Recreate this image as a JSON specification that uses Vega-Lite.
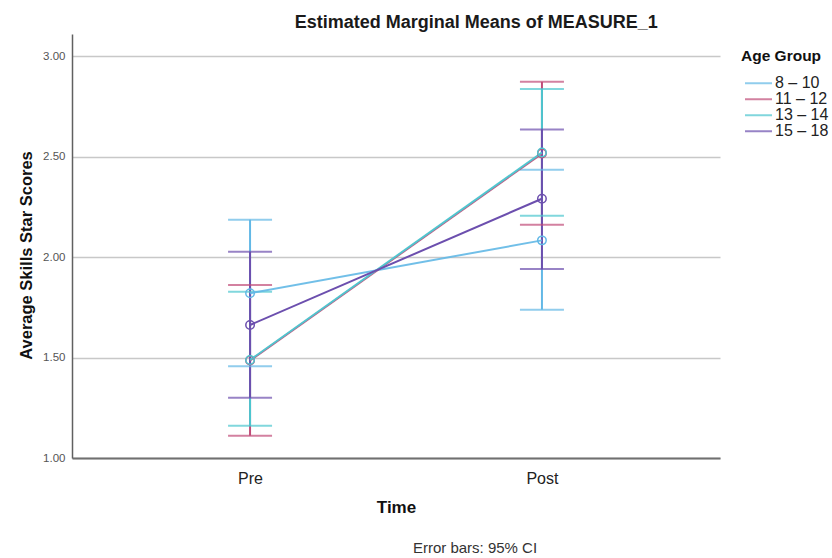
{
  "$schema": "https://vega.github.io/schema/vega-lite/v6.json",
  "background": "white",
  "padding": {"left": 18, "top": 14, "right": 0, "bottom": 0},
  "title": {
    "text": "Estimated Marginal Means of MEASURE_1",
    "font": "Liberation Sans",
    "fontSize": 18,
    "fontWeight": "bold",
    "color": "#1a1a1a",
    "anchor": "middle",
    "dx": 45,
    "offset": 2
  },
  "datasets": {
    "emm": [
      {"group": "8 – 10", "time": "Pre", "mean": 1.82, "lo": 1.456, "hi": 2.186},
      {"group": "8 – 10", "time": "Post", "mean": 2.083, "lo": 1.738, "hi": 2.434},
      {"group": "11 – 12", "time": "Pre", "mean": 1.485, "lo": 1.111, "hi": 1.861},
      {"group": "11 – 12", "time": "Post", "mean": 2.515, "lo": 2.161, "hi": 2.872},
      {"group": "13 – 14", "time": "Pre", "mean": 1.488, "lo": 1.161, "hi": 1.827},
      {"group": "13 – 14", "time": "Post", "mean": 2.52, "lo": 2.206, "hi": 2.836},
      {"group": "15 – 18", "time": "Pre", "mean": 1.662, "lo": 1.3, "hi": 2.026},
      {"group": "15 – 18", "time": "Post", "mean": 2.29, "lo": 1.94, "hi": 2.635}
    ]
  },
  "vconcat": [
    {
      "width": 648,
      "height": 424,
      "title": {
        "text": "Error bars: 95% CI",
        "orient": "bottom",
        "anchor": "middle",
        "frame": "group",
        "dx": 79,
        "offset": 26,
        "font": "Liberation Sans",
        "fontSize": 15,
        "fontWeight": "normal",
        "color": "#333333"
      },
      "data": {"name": "emm"},
      "encoding": {
        "x": {
          "field": "time",
          "type": "nominal",
          "scale": {"type": "point", "domain": ["Pre", "Post"], "padding": 0.61},
          "axis": {
            "title": "Time",
            "titleFont": "Liberation Sans",
            "titleFontSize": 17,
            "titleFontWeight": "bold",
            "titleColor": "#111111",
            "titlePadding": 13,
            "labelFont": "Liberation Sans",
            "labelFontSize": 16,
            "labelColor": "#222222",
            "labelAngle": 0,
            "labelPadding": 12,
            "ticks": false,
            "grid": false,
            "domain": true,
            "domainColor": "#707070",
            "domainWidth": 2
          }
        },
        "color": {
          "field": "group",
          "type": "nominal",
          "scale": {
            "domain": ["8 – 10", "11 – 12", "13 – 14", "15 – 18"],
            "range": ["#62b8e6", "#c04c78", "#4cc6cf", "#6c4fae"]
          },
          "legend": {
            "title": "Age Group",
            "titleFont": "Liberation Sans",
            "titleFontSize": 15.5,
            "titleFontWeight": "bold",
            "titleColor": "#111111",
            "labelFont": "Liberation Sans",
            "labelFontSize": 16,
            "labelColor": "#222222",
            "symbolType": "stroke",
            "symbolSize": 729,
            "symbolStrokeWidth": 2,
            "symbolOffset": 3,
            "labelOffset": 2,
            "clipHeight": 15.5,
            "rowPadding": -1.5,
            "offset": 6,
            "padding": 15,
            "titlePadding": 11
          }
        }
      },
      "layer": [
        {
          "mark": {"type": "rule", "strokeWidth": 2},
          "encoding": {
            "y": {
              "field": "lo",
              "type": "quantitative",
              "scale": {"domain": [1, 3.11], "nice": false, "zero": false},
              "axis": {
                "title": "Average Skills Star Scores",
                "titleFont": "Liberation Sans",
                "titleFontSize": 16.5,
                "titleFontWeight": "bold",
                "titleColor": "#111111",
                "titlePadding": 8,
                "titleY": 221,
                "values": [1, 1.5, 2, 2.5, 3],
                "format": ".2f",
                "labelFont": "Liberation Sans",
                "labelFontSize": 11.5,
                "labelColor": "#555555",
                "labelPadding": 7,
                "ticks": false,
                "grid": true,
                "gridColor": "#c8c8c8",
                "gridWidth": 1.5,
                "domain": true,
                "domainColor": "#606060",
                "domainWidth": 1.5
              }
            },
            "y2": {"field": "hi"}
          }
        },
        {
          "mark": {"type": "tick", "size": 44, "thickness": 2},
          "encoding": {"y": {"field": "lo", "type": "quantitative"}}
        },
        {
          "mark": {"type": "tick", "size": 44, "thickness": 2},
          "encoding": {"y": {"field": "hi", "type": "quantitative"}}
        },
        {
          "mark": {"type": "line", "strokeWidth": 2},
          "encoding": {
            "y": {"field": "mean", "type": "quantitative"},
            "strokeOpacity": {
              "field": "group",
              "type": "nominal",
              "scale": {
                "domain": ["8 – 10", "11 – 12", "13 – 14", "15 – 18"],
                "range": [0.9, 1, 0.65, 0.9]
              },
              "legend": null
            }
          }
        },
        {
          "mark": {"type": "point", "shape": "circle", "filled": false, "size": 72, "strokeWidth": 1.5, "opacity": 1},
          "encoding": {"y": {"field": "mean", "type": "quantitative"}}
        }
      ]
    }
  ],
  "config": {
    "view": {"stroke": null},
    "font": "Liberation Sans"
  }
}
